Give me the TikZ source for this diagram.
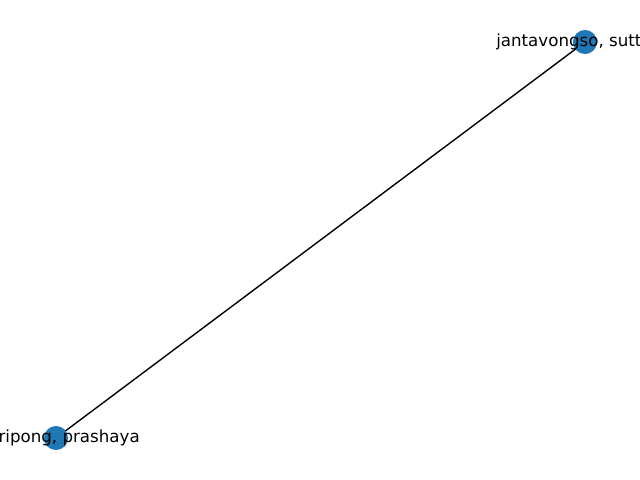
\documentclass[tikz,border=0pt]{standalone}
\usepackage{fontspec}
\setmainfont{DejaVu Sans}
\usetikzlibrary{backgrounds}
\definecolor{nodeblue}{HTML}{1F77B4}
\tikzset{
  author/.style={circle,fill=nodeblue,minimum size=17.3pt,inner sep=0pt},
  authorlabel/.style={font=\fontsize{12pt}{14pt}\selectfont,inner sep=0pt}
}
\begin{document}
\begin{tikzpicture}[x=0.72pt,y=-0.72pt]
\useasboundingbox (0,0) rectangle (640,480);
\clip (0,0) rectangle (640,480);
\node[author] (J) at (585,42){};
\node[author] (P) at (56,438){};
\begin{scope}[on background layer]
\draw[line width=1pt] (J.center)--(P.center);
\end{scope}
\node[authorlabel,anchor=west] (Jlab) at (496,42){jantavongso, sutt};
\node[authorlabel,anchor=east] (Plab) at (140,438){ripong, prashaya};
\end{tikzpicture}
\end{document}
